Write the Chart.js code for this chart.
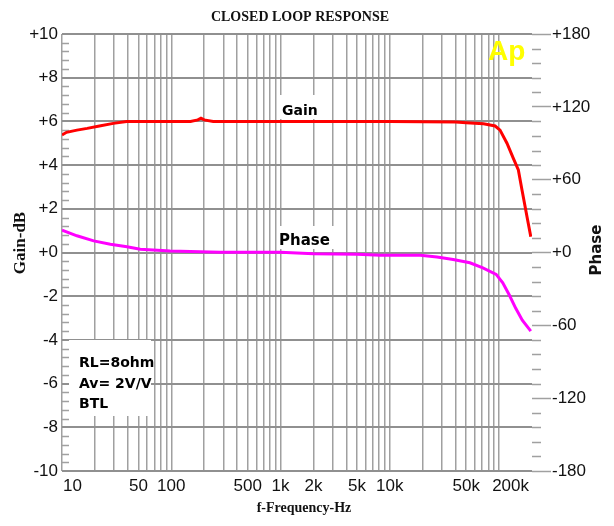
<!DOCTYPE html>
<html>
<head>
<meta charset="utf-8">
<title>Closed Loop Response</title>
<script src="https://cdn.jsdelivr.net/npm/chart.js@4.4.1/dist/chart.umd.min.js"></script>
<style>
  html, body { margin: 0; padding: 0; background: #fff; }
  #chart { display: block; }
</style>
</head>
<body>
<canvas id="chart" width="614" height="526"></canvas>
<script>
// gain curve (dB)
const gainFreq = [10, 11, 13.7, 17, 22, 29.5, 39, 60, 100, 150, 175, 187, 200, 242, 1000, 10000, 40000, 50000, 72000, 92000, 102000, 118000, 135000, 150000, 162000, 180000, 195000];
const gainDb   = [5.38, 5.5, 5.6, 5.68, 5.79, 5.91, 5.99, 6.0, 6.0, 6.0, 6.07, 6.15, 6.07, 6.0, 6.0, 6.0, 5.97, 5.94, 5.89, 5.79, 5.6, 5.0, 4.31, 3.78, 2.86, 1.64, 0.72];

// phase curve (degrees)
const phaseFreq = [10, 13.7, 19.5, 27.7, 39.3, 52, 98, 280, 525, 1000, 2000, 5000, 8200, 19000, 27000, 38000, 54000, 71000, 94000, 108000, 124000, 142000, 163000, 195000];
const phaseDeg  = [18.5, 13.75, 9.6, 6.8, 4.8, 2.7, 1.25, 0.2, 0.3, 0.3, -1, -1.5, -2.3, -2.3, -3.75, -5.7, -8.5, -12.7, -18, -25, -35, -46, -55.7, -64.8];

// x axis labels
const xTickValues = [10, 50, 100, 500, 1000, 2000, 5000, 10000, 50000, 200000];
const xTickText   = ['10', '50', '100', '500', '1k', '2k', '5k', '10k', '50k', '200k'];

const notes = ['RL=8ohm', 'Av= 2V/V', 'BTL'];

// vertical grid: 1..9 in every decade
const gridFreq = [];
for (let d = 10; d < 200000; d *= 10) {
    for (let m = 1; m <= 9; m++) {
        if (d * m <= 200000) gridFreq.push(d * m);
    }
}
gridFreq.push(200000);

const signed = v => (v > 0 ? '+' : (v === 0 ? '+' : '')) + v;

const gridGrey = '#a0a0a0';

const extras = {
    id: 'extras',
    beforeDatasetsDraw(chart) {
        const { ctx, chartArea: a } = chart;
        const y = chart.scales.y, y2 = chart.scales.y2;
        ctx.save();
        ctx.strokeStyle = gridGrey;
        ctx.lineWidth = 1.5;
        ctx.beginPath();
        // small ticks on the left edge, inside the plot
        for (let i = 1; i < 50; i++) {
            if (i % 5 === 0) continue;
            const py = Math.round(y.getPixelForValue(-10 + i * 0.4)) + 0.5;
            ctx.moveTo(a.left, py);
            ctx.lineTo(a.left + 7, py);
        }
        // small ticks on the right, outside
        for (let i = 1; i < 30; i++) {
            if (i % 5 === 0) continue;
            const py = Math.round(y2.getPixelForValue(-180 + i * 12)) + 0.5;
            ctx.moveTo(a.right, py);
            ctx.lineTo(a.right + 9, py);
        }
        ctx.stroke();
        ctx.restore();
    },
    afterDatasetsDraw(chart) {
        const { ctx, chartArea: a } = chart;
        const x = chart.scales.x;
        ctx.save();

        // frequency labels
        ctx.fillStyle = '#111';
        ctx.font = '17px "Liberation Sans"';
        ctx.textBaseline = 'middle';
        xTickValues.forEach((v, i) => {
            let px = x.getPixelForValue(v);
            ctx.textAlign = 'center';
            if (i === 0) { ctx.textAlign = 'left'; px = a.left + 1; }
            if (i === xTickValues.length - 1) { ctx.textAlign = 'right'; px = a.right - 3; }
            ctx.fillText(xTickText[i], px, 486);
        });

        // titles
        ctx.textAlign = 'center';
        ctx.font = 'bold 14px "Liberation Serif"';
        ctx.fillText('CLOSED LOOP RESPONSE', 300, 17);
        ctx.fillText('f-Frequency-Hz', 304, 508);

        ctx.save();
        ctx.translate(21, 243);
        ctx.rotate(-Math.PI / 2);
        ctx.font = 'bold 17px "Liberation Serif"';
        ctx.fillText('Gain-dB', 0, 0);
        ctx.restore();

        ctx.save();
        ctx.translate(597, 250);
        ctx.rotate(-Math.PI / 2);
        ctx.font = 'bold 15px "DejaVu Sans"';
        ctx.fillText('Phase', 0, 0);
        ctx.restore();

        // curve labels on white patches
        ctx.fillStyle = '#fff';
        ctx.fillRect(279, 95, 42, 24);
        ctx.fillRect(277, 226, 58, 23);
        ctx.fillRect(69, 340, 82, 76);

        ctx.fillStyle = '#000';
        ctx.textAlign = 'left';
        ctx.textBaseline = 'alphabetic';
        ctx.font = 'bold 14px "DejaVu Sans"';
        ctx.fillText('Gain', 282, 115);
        ctx.font = 'bold 15px "DejaVu Sans"';
        ctx.fillText('Phase', 279, 245);
        ctx.font = 'bold 14px "DejaVu Sans"';
        notes.forEach((t, i) => ctx.fillText(t, 79, 367 + i * 20.5));

        // logo
        ctx.fillStyle = '#ffff00';
        ctx.font = 'bold 28px "Liberation Sans"';
        ctx.fillText('Ap', 488, 60);

        ctx.restore();
    }
};

new Chart(document.getElementById('chart'), {
    type: 'line',
    data: {
        datasets: [{
            label: 'Gain',
            data: gainFreq.map((f, i) => ({ x: f, y: gainDb[i] })),
            borderColor: '#ff0000',
            borderWidth: 3,
            pointRadius: 0,
            tension: 0,
            yAxisID: 'y'
        }, {
            label: 'Phase',
            data: phaseFreq.map((f, i) => ({ x: f, y: phaseDeg[i] })),
            borderColor: '#ff00ff',
            borderWidth: 3,
            pointRadius: 0,
            tension: 0,
            yAxisID: 'y2'
        }]
    },
    options: {
        responsive: false,
        animation: false,
        devicePixelRatio: 1,
        layout: { padding: { top: 34, left: 0, right: 0, bottom: 0 } },
        plugins: {
            legend: { display: false },
            tooltip: { enabled: false },
            title: { display: false }
        },
        scales: {
            x: {
                type: 'logarithmic',
                min: 10,
                max: 200000,
                afterBuildTicks: axis => { axis.ticks = gridFreq.map(v => ({ value: v })); },
                afterFit: axis => { axis.height = 55; },
                ticks: { display: false },
                grid: {
                    drawTicks: false,
                    lineWidth: 1.5,
                    color: c => (c.tick && c.tick.value === 200000) ? 'rgba(0,0,0,0)' : gridGrey
                },
                border: { display: false }
            },
            y: {
                position: 'left',
                min: -10,
                max: 10,
                afterFit: axis => { axis.width = 62; },
                ticks: {
                    stepSize: 2,
                    padding: 4,
                    color: '#111',
                    font: { family: 'Liberation Sans', size: 17 },
                    callback: v => signed(v)
                },
                grid: { drawTicks: false, color: '#909090', lineWidth: 2 },
                border: { display: false }
            },
            y2: {
                position: 'right',
                min: -180,
                max: 180,
                afterFit: axis => { axis.width = 82; },
                ticks: {
                    stepSize: 60,
                    padding: 1,
                    color: '#111',
                    font: { family: 'Liberation Sans', size: 17 },
                    callback: v => signed(v)
                },
                grid: {
                    drawOnChartArea: false,
                    drawTicks: true,
                    tickLength: 19,
                    tickColor: gridGrey,
                    tickWidth: 1.5
                },
                border: { display: false }
            }
        }
    },
    plugins: [extras]
});
</script>
</body>
</html>
